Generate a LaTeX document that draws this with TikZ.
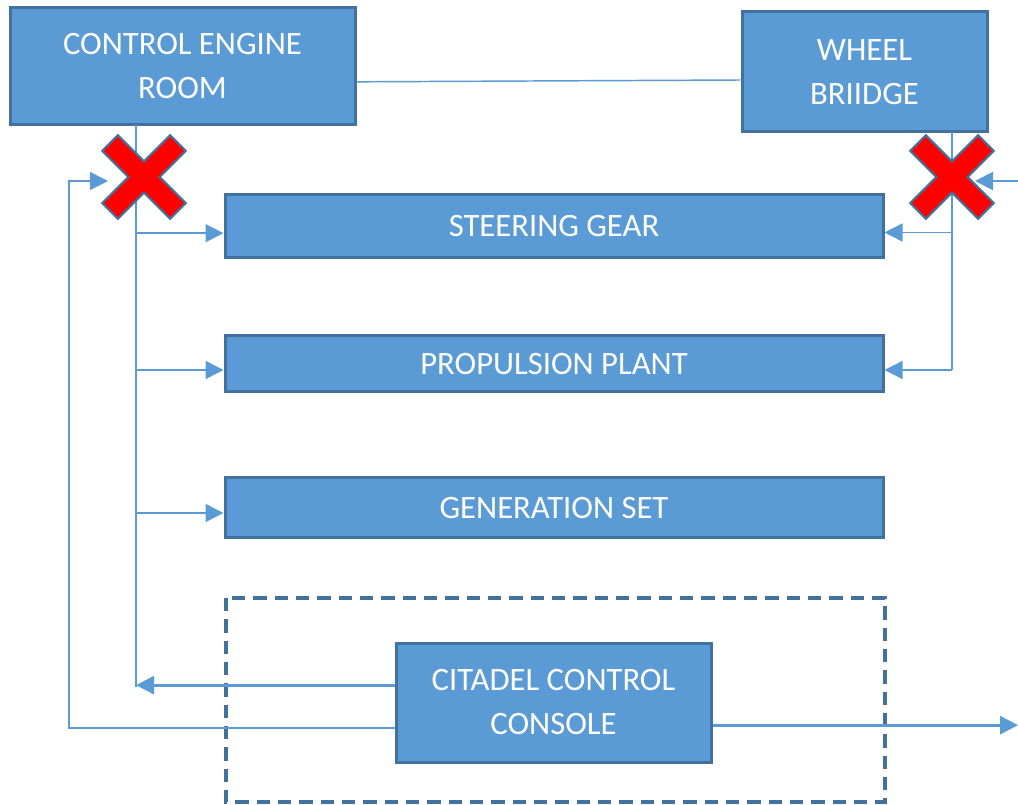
\documentclass[tikz,border=0pt]{standalone}
\usepackage{fontspec}
\setmainfont{Carlito}
\usepackage{xcolor}
\usetikzlibrary{arrows.meta}
\definecolor{boxblue}{HTML}{5B9BD5}
\definecolor{edgeblue}{HTML}{41719C}

\tikzset{
    unit/.style={draw=edgeblue,line width=2.25pt,fill=boxblue,text=white,align=center,
        font=\fontsize{24.5}{33}\selectfont},
    link/.style={draw=boxblue,line width=1.1pt},
    tip/.style={-{Triangle[length=13.5pt,width=13.5pt]}},
    cross/.pic={
        \draw[fill=red,draw=edgeblue,line width=1.6pt,rotate=45]
            (11,48) -- (11,11) -- (48,11) -- (48,-11) -- (11,-11) -- (11,-48)
            -- (-11,-48) -- (-11,-11) -- (-48,-11) -- (-48,11) -- (-11,11) -- (-11,48) -- cycle;
    }
}

\begin{document}
\begin{tikzpicture}[x=0.75pt,y=-0.75pt]
            \useasboundingbox (0,0) rectangle (1018,805);

            \node[unit,minimum width=258.75pt,minimum height=87.75pt] (engine) at (182.5,66.5) {CONTROL ENGINE\\ROOM};
            \node[unit,minimum width=183.75pt,minimum height=90pt] (bridge) at (864.5,72) {WHEEL\\BRIIDGE};
            \node[unit,minimum width=493.5pt,minimum height=47.25pt] (steer) at (554,226.5) {STEERING GEAR};
            \node[unit,minimum width=493.5pt,minimum height=42pt] (prop) at (554,364) {PROPULSION PLANT};
            \node[unit,minimum width=493.5pt,minimum height=45pt] (gen) at (554,508) {GENERATION SET};
            \node[unit,minimum width=236.25pt,minimum height=89.25pt] (citadel) at (553.5,702.5) {CITADEL CONTROL\\CONSOLE};
            \draw[edgeblue,line width=2.5pt,dash pattern=on 10pt off 6pt] (226,598) rectangle (885,802);

            % entry points
            \coordinate (steerin) at ([yshift=-5pt]steer.west);
            \coordinate (steerrin) at ([yshift=-4.5pt]steer.east);
            \coordinate (propin) at ([yshift=-4.5pt]prop.west);
            \coordinate (genin) at ([yshift=-3.75pt]gen.west);

            % engine room side
            \coordinate (ltop) at (136,125);
            \coordinate (lbot) at (136,687);
            \draw[link] ([yshift=-11.5pt]engine.east) -- ([yshift=-6pt]bridge.west);
            \draw[link] (ltop) -- (lbot);
            \draw[link,tip] (ltop |- steerin) -- (steerin);
            \draw[link,tip] (ltop |- propin) -- (propin);
            \draw[link,tip] (ltop |- genin) -- (genin);
            \coordinate (cin) at ([yshift=13pt]citadel.west);
            \draw[link,line width=2.2pt,tip] (cin) -- (cin -| lbot);
            \coordinate (loop) at (69,181);
            \coordinate (loopend) at (108,181);
            \draw[link,tip] ([yshift=-19pt]citadel.west) -| (loop) -- (loopend);

            % bridge side
            \coordinate (rtop) at (952,132);
            \coordinate (rbot) at (952,370);
            \draw[link] (rtop) -- (rbot);
            \draw[link,tip] (rtop |- steerrin) -- (steerrin);
            \draw[link,tip] (rbot) -- (rbot -| prop.east);
            \coordinate (rin) at (1018,181);
            \coordinate (rinend) at (975,181);
            \draw[link,line width=1.5pt,tip] (rin) -- (rinend);
            \coordinate (cout) at ([yshift=-17pt]citadel.east);
            \coordinate (rout) at (1018,725);
            \draw[link,line width=2.2pt,tip] (cout) -- (cout -| rout);

            \pic at (144,177) {cross};
            \pic at (952,177) {cross};
        \end{tikzpicture}
\end{document}
